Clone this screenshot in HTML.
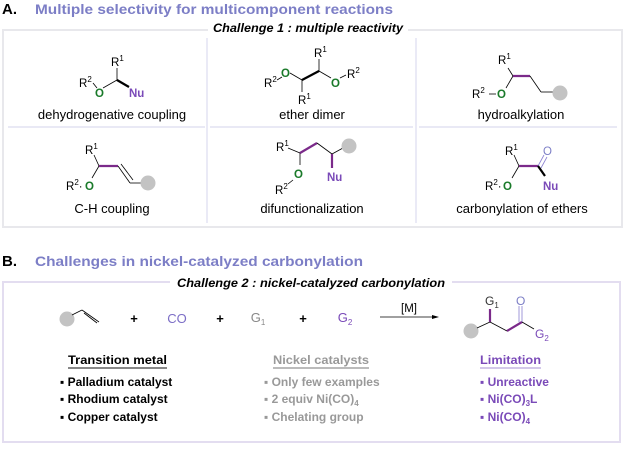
<!DOCTYPE html>
<html><head><meta charset="utf-8"><style>
html,body{margin:0;padding:0;background:#fff;}
svg{display:block;font-family:"Liberation Sans",Arial,sans-serif;}
</style></head><body>
<svg width="625" height="450" viewBox="0 0 625 450" xmlns="http://www.w3.org/2000/svg">
<!-- Titles -->
<text x="2" y="14" font-size="15" font-weight="bold" fill="#000">A.</text>
<text x="35" y="14" font-size="14" font-weight="bold" fill="#7c7ec6" textLength="358" lengthAdjust="spacingAndGlyphs">Multiple selectivity for multicomponent reactions</text>
<text x="2" y="266" font-size="15" font-weight="bold" fill="#000">B.</text>
<text x="35" y="266" font-size="14" font-weight="bold" fill="#7c7ec6" textLength="328" lengthAdjust="spacingAndGlyphs">Challenges in nickel-catalyzed carbonylation</text>

<!-- Box A -->
<rect x="3" y="30" width="619" height="197" fill="none" stroke="#e8e8ec" stroke-width="2"/>
<rect x="208" y="24" width="200" height="12" fill="#fff"/>
<text x="308" y="32" font-size="12" font-weight="bold" font-style="italic" text-anchor="middle" textLength="190" lengthAdjust="spacingAndGlyphs">Challenge 1 : multiple reactivity</text>
<g stroke="#dcdcef" stroke-width="1.2">
<line x1="207" y1="38" x2="207" y2="223"/>
<line x1="416" y1="38" x2="416" y2="223"/>
<line x1="8" y1="127" x2="205" y2="127"/>
<line x1="210" y1="127" x2="413" y2="127"/>
<line x1="419" y1="127" x2="617" y2="127"/>
</g>

<!-- Labels row -->
<g font-size="13" text-anchor="middle" fill="#000">
<text x="112" y="119">dehydrogenative coupling</text>
<text x="312" y="119">ether dimer</text>
<text x="521" y="119">hydroalkylation</text>
<text x="112" y="213">C-H coupling</text>
<text x="312" y="213">difunctionalization</text>
<text x="522" y="213">carbonylation of ethers</text>
</g>

<g font-size="11.5">
<!-- Cell 1 -->
<line x1="93" y1="83" x2="97" y2="88" stroke="#000" stroke-width="0.8"/>
<line x1="103" y1="88" x2="117" y2="80" stroke="#000" stroke-width="0.8"/>
<line x1="117" y1="80" x2="117" y2="68" stroke="#000" stroke-width="0.8"/>
<line x1="117" y1="80" x2="129" y2="87" stroke="#000" stroke-width="2.2"/>
<text x="79" y="87">R<tspan font-size="8" dy="-5">2</tspan></text>
<text x="95" y="97" fill="#1a7a2a" font-weight="bold">O</text>
<text x="111" y="66">R<tspan font-size="8" dy="-5">1</tspan></text>
<text x="129" y="97" fill="#7a4ab8" font-weight="bold">Nu</text>

<!-- Cell 2 ether dimer -->
<line x1="277" y1="80" x2="282" y2="77" stroke="#000" stroke-width="0.8"/>
<line x1="290" y1="73" x2="302" y2="80" stroke="#000" stroke-width="0.8"/>
<line x1="302" y1="80" x2="302" y2="92" stroke="#000" stroke-width="0.8"/>
<line x1="302" y1="80" x2="319" y2="71" stroke="#000" stroke-width="2.2"/>
<line x1="319" y1="71" x2="319" y2="59" stroke="#000" stroke-width="0.8"/>
<line x1="319" y1="71" x2="331" y2="78" stroke="#000" stroke-width="0.8"/>
<line x1="340" y1="78" x2="346" y2="75" stroke="#000" stroke-width="0.8"/>
<text x="264" y="87">R<tspan font-size="8" dy="-5">2</tspan></text>
<text x="281" y="77" fill="#1a7a2a" font-weight="bold">O</text>
<text x="298" y="104">R<tspan font-size="8" dy="-5">1</tspan></text>
<text x="314" y="57">R<tspan font-size="8" dy="-5">1</tspan></text>
<text x="331" y="87" fill="#1a7a2a" font-weight="bold">O</text>
<text x="347" y="78">R<tspan font-size="8" dy="-5">2</tspan></text>

<!-- Cell 3 hydroalkylation -->
<line x1="508" y1="68" x2="513" y2="76" stroke="#000" stroke-width="0.8"/>
<line x1="513" y1="76" x2="506" y2="88" stroke="#000" stroke-width="0.8"/>
<line x1="513" y1="76" x2="530" y2="76" stroke="#7b2a8a" stroke-width="2.2"/>
<line x1="530" y1="76" x2="541" y2="92" stroke="#000" stroke-width="0.8"/>
<line x1="541" y1="92" x2="553" y2="92" stroke="#000" stroke-width="0.8"/>
<circle cx="560" cy="93" r="7.5" fill="#c3c3c3"/>
<text x="498" y="64">R<tspan font-size="8" dy="-5">1</tspan></text>
<text x="472" y="98">R<tspan font-size="8" dy="-5">2</tspan></text>
<line x1="489" y1="94" x2="496" y2="94" stroke="#000" stroke-width="0.8"/>
<text x="497" y="98" fill="#1a7a2a" font-weight="bold">O</text>

<!-- Cell 4 C-H coupling -->
<line x1="94" y1="155" x2="99" y2="166" stroke="#000" stroke-width="0.8"/>
<line x1="99" y1="166" x2="92" y2="178" stroke="#000" stroke-width="0.8"/>
<line x1="99" y1="166" x2="118" y2="166" stroke="#7b2a8a" stroke-width="2.2"/>
<line x1="118" y1="166" x2="130" y2="183" stroke="#000" stroke-width="0.8"/>
<line x1="121" y1="164" x2="133" y2="180" stroke="#000" stroke-width="0.8"/>
<line x1="130" y1="183" x2="142" y2="183" stroke="#000" stroke-width="0.8"/>
<circle cx="148" cy="183" r="7.5" fill="#c3c3c3"/>
<text x="85" y="154">R<tspan font-size="8" dy="-5">1</tspan></text>
<text x="66" y="190">R<tspan font-size="8" dy="-5">2</tspan><tspan dy="5">·</tspan></text>
<text x="85" y="190" fill="#1a7a2a" font-weight="bold">O</text>

<!-- Cell 5 difunctionalization -->
<line x1="288" y1="148" x2="300" y2="153" stroke="#000" stroke-width="0.8"/>
<line x1="300" y1="153" x2="300" y2="165" stroke="#000" stroke-width="0.8"/>
<line x1="300" y1="153" x2="317" y2="143" stroke="#7b2a8a" stroke-width="2.2"/>
<line x1="317" y1="143" x2="332" y2="154" stroke="#000" stroke-width="0.8"/>
<line x1="332" y1="154" x2="343" y2="148" stroke="#000" stroke-width="0.8"/>
<line x1="332" y1="154" x2="332" y2="168" stroke="#7b2a8a" stroke-width="2.2"/>
<circle cx="349" cy="146" r="7.5" fill="#c3c3c3"/>
<line x1="293" y1="180" x2="288" y2="184" stroke="#000" stroke-width="0.8"/>
<text x="276" y="151">R<tspan font-size="8" dy="-5">1</tspan></text>
<text x="294" y="178" fill="#1a7a2a" font-weight="bold">O</text>
<text x="275" y="194">R<tspan font-size="8" dy="-5">2</tspan></text>
<text x="327" y="181" fill="#7a4ab8" font-weight="bold">Nu</text>

<!-- Cell 6 carbonylation -->
<line x1="514" y1="155" x2="519" y2="166" stroke="#000" stroke-width="0.8"/>
<line x1="519" y1="166" x2="512" y2="178" stroke="#000" stroke-width="0.8"/>
<line x1="519" y1="166" x2="538" y2="166" stroke="#7b2a8a" stroke-width="2.2"/>
<line x1="538" y1="166" x2="544" y2="155" stroke="#8a7fd0" stroke-width="0.8"/>
<line x1="541" y1="168" x2="547" y2="157" stroke="#8a7fd0" stroke-width="0.8"/>
<line x1="538" y1="166" x2="545" y2="176" stroke="#000" stroke-width="2.2"/>
<text x="505" y="155">R<tspan font-size="8" dy="-5">1</tspan></text>
<text x="543" y="155" fill="#7c7ec6">O</text>
<text x="485" y="190">R<tspan font-size="8" dy="-5">2</tspan><tspan dy="5">·</tspan></text>
<text x="503" y="190" fill="#1a7a2a" font-weight="bold">O</text>
<text x="543" y="190" fill="#7a4ab8" font-weight="bold">Nu</text>
</g>

<!-- Box B -->
<rect x="3" y="282" width="617" height="160" fill="none" stroke="#e3ddf0" stroke-width="2"/>
<rect x="170" y="276" width="282" height="12" fill="#fff"/>
<text x="311" y="287" font-size="12" font-weight="bold" font-style="italic" text-anchor="middle" textLength="268" lengthAdjust="spacingAndGlyphs">Challenge 2 : nickel-catalyzed carbonylation</text>

<!-- reaction -->
<circle cx="67" cy="319" r="7.5" fill="#c3c3c3"/>
<line x1="72" y1="315" x2="82" y2="310" stroke="#000" stroke-width="0.8"/>
<line x1="82" y1="310" x2="99" y2="322" stroke="#000" stroke-width="0.8"/>
<line x1="84" y1="313" x2="97" y2="323" stroke="#000" stroke-width="0.8"/>
<g font-size="13" text-anchor="middle">
<text x="134" y="323" font-weight="bold">+</text>
<text x="177" y="323" fill="#7c6ec6">CO</text>
<text x="220" y="323" font-weight="bold">+</text>
<text x="258" y="322" fill="#888">G<tspan font-size="8" dy="3">1</tspan></text>
<text x="303" y="323" font-weight="bold">+</text>
<text x="345" y="322" fill="#7a4ab8">G<tspan font-size="8" dy="3">2</tspan></text>
<text x="409" y="312" font-size="11.5">[M]</text>
</g>
<line x1="380" y1="317" x2="434" y2="317" stroke="#000" stroke-width="0.8"/>
<polygon points="439,317 432,315 432,319" fill="#000"/>

<!-- product -->
<circle cx="471" cy="331" r="7.5" fill="#c3c3c3"/>
<line x1="477" y1="328" x2="490" y2="322" stroke="#000" stroke-width="0.8"/>
<line x1="490" y1="322" x2="490" y2="309" stroke="#7b2a8a" stroke-width="2.2"/>
<line x1="490" y1="322" x2="507" y2="331" stroke="#000" stroke-width="0.8"/>
<line x1="507" y1="331" x2="522" y2="322" stroke="#7b2a8a" stroke-width="2.2"/>
<line x1="522" y1="322" x2="522" y2="306" stroke="#8a7fd0" stroke-width="0.8"/>
<line x1="519" y1="322" x2="519" y2="306" stroke="#8a7fd0" stroke-width="0.8"/>
<line x1="522" y1="322" x2="534" y2="329" stroke="#000" stroke-width="0.8"/>
<g font-size="12">
<text x="485" y="305" fill="#333">G<tspan font-size="8" dy="3">1</tspan></text>
<text x="516" y="305" fill="#7c7ec6">O</text>
<text x="535" y="338" fill="#7a4ab8">G<tspan font-size="8" dy="3">2</tspan></text>
</g>

<!-- lists -->
<g font-size="12" font-weight="bold">
<text x="68" y="364" textLength="99" lengthAdjust="spacingAndGlyphs">Transition metal</text>
<line x1="68" y1="368" x2="167" y2="368" stroke="#888" stroke-width="2"/>
<text x="60" y="386">▪ Palladium catalyst</text>
<text x="60" y="403">▪ Rhodium catalyst</text>
<text x="60" y="421">▪ Copper catalyst</text>

<g fill="#999">
<text x="273" y="364" textLength="96" lengthAdjust="spacingAndGlyphs">Nickel catalysts</text>
<text x="264" y="386">▪ Only few examples</text>
<text x="264" y="403">▪ 2 equiv Ni(CO)<tspan font-size="8" dy="3">4</tspan></text>
<text x="264" y="421">▪ Chelating group</text>
</g>
<line x1="273" y1="368" x2="369" y2="368" stroke="#bbb" stroke-width="2"/>

<g fill="#7a4ab8">
<text x="480" y="364" textLength="61" lengthAdjust="spacingAndGlyphs">Limitation</text>
<text x="480" y="386">▪ Unreactive</text>
<text x="480" y="403">▪ Ni(CO)<tspan font-size="8" dy="3">3</tspan><tspan dy="-3">L</tspan></text>
<text x="480" y="421">▪ Ni(CO)<tspan font-size="8" dy="3">4</tspan></text>
</g>
<line x1="480" y1="368" x2="541" y2="368" stroke="#b9a6dc" stroke-width="1.2"/>
</g>
</svg>
</body></html>
